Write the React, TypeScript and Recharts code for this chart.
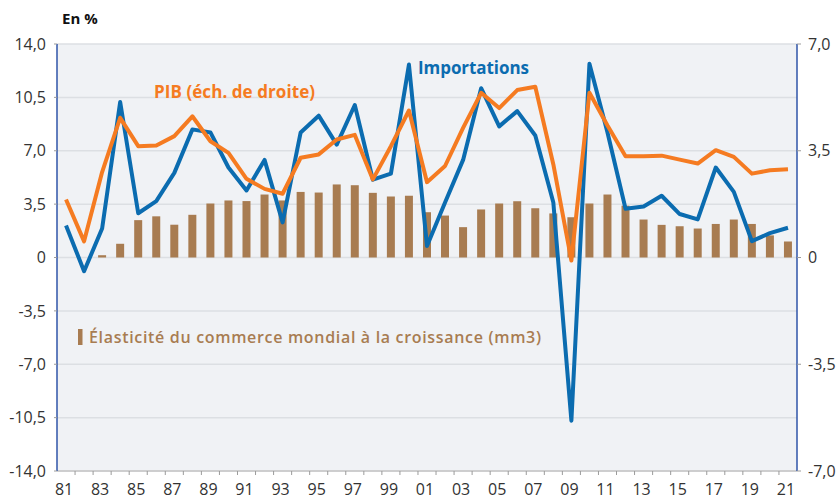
import React from "react";
import {
  ComposedChart,
  Bar,
  Line,
  XAxis,
  YAxis,
  CartesianGrid,
} from "recharts";

const years = [
  "81", "82", "83", "84", "85", "86", "87", "88", "89", "90",
  "91", "92", "93", "94", "95", "96", "97", "98", "99", "00",
  "01", "02", "03", "04", "05", "06", "07", "08", "09", "10",
  "11", "12", "13", "14", "15", "16", "17", "18", "19", "20", "21",
];

// Importations, left scale
const importations = [
  2.1, -0.9, 1.9, 10.2, 2.9, 3.7, 5.55, 8.4, 8.2, 5.9,
  4.4, 6.4, 2.3, 8.2, 9.3, 7.4, 10.0, 5.1, 5.5, 12.65,
  0.75, 3.6, 6.4, 11.1, 8.6, 9.6, 8.0, 3.6, -10.7, 12.7,
  8.2, 3.2, 3.35, 4.05, 2.85, 2.5, 5.9, 4.3, 1.07, 1.6, 1.95,
];

// PIB, right scale
const pib = [
  1.9, 0.53, 2.8, 4.58, 3.65, 3.67, 3.98, 4.63, 3.81, 3.43,
  2.58, 2.25, 2.09, 3.27, 3.38, 3.87, 4.02, 2.56, 3.65, 4.82,
  2.47, 3.0, 4.25, 5.4, 4.9, 5.49, 5.6, 3.05, -0.1, 5.4,
  4.33, 3.32, 3.32, 3.34, 3.21, 3.08, 3.52, 3.3, 2.75, 2.86, 2.89,
];

// Elasticity (mm3), left scale
const elasticite = [
  null, null, 0.15, 0.9, 2.45, 2.7, 2.15, 2.8, 3.54, 3.74,
  3.7, 4.13, 3.74, 4.3, 4.26, 4.79, 4.74, 4.24, 4.0, 4.05,
  2.97, 2.75, 1.99, 3.15, 3.54, 3.69, 3.23, 2.89, 2.64, 3.54,
  4.13, 3.4, 2.49, 2.14, 2.05, 1.9, 2.2, 2.49, 2.2, 1.45, 1.05,
];

const leftTicks = [-14, -10.5, -7, -3.5, 0, 3.5, 7, 10.5, 14];
const rightTicks = [-7, -3.5, 0, 3.5, 7];

const data = years.map((year, i) => ({
  year,
  importations: importations[i],
  pib: pib[i],
  elasticite: elasticite[i],
}));

const BLUE = "#0b6cb0";
const ORANGE = "#f57b21";
const BROWN = "#a87c51";
const AXIS_BLUE = "#2f54a8";
const FONT = "'Open Sans', sans-serif";
const BAND = (797 - 57) / years.length;

const fmt = (v: number) => (v === 0 ? "0" : v.toFixed(1).replace(".", ","));

const XTick = (props: any) => {
  const { x, y, payload, index } = props;
  return (
    <g>
      {index < years.length - 1 && (
        <line x1={x + BAND / 2} x2={x + BAND / 2} y1={y} y2={y + 4} stroke="#9b9b9b" strokeWidth={1} />
      )}
      {index % 2 === 0 && (
        <text x={x - 2} y={y + 24} textAnchor="middle" fontSize={16} fontFamily={FONT} fill="#333">
          {payload.value}
        </text>
      )}
    </g>
  );
};

export default function App() {
  return (
    <div style={{ position: "absolute", left: 0, top: 0, width: 839, height: 499, background: "#fff" }}>
      <ComposedChart
        width={839}
        height={499}
        data={data}
        margin={{ top: 44, right: 0, bottom: 0, left: 0 }}
        barCategoryGap={0}
      >
        <CartesianGrid vertical={false} stroke="#dcdfe3" strokeWidth={1.5} fill="#f0f2f5" />
        <XAxis
          dataKey="year"
          height={28}
          interval={0}
          tickSize={0}
          tickMargin={0}
          tickLine={false}
          axisLine={{ stroke: "#c6c6c6", strokeWidth: 1.5 }}
          tick={<XTick />}
        />
        <YAxis
          domain={[-14, 14]}
          ticks={leftTicks}
          width={57}
          tickFormatter={fmt}
          tickSize={3}
          tickMargin={8}
          tickLine={{ stroke: "#9b9b9b" }}
          axisLine={{ stroke: AXIS_BLUE, strokeWidth: 1.5 }}
          tick={{ fill: "#333", fontSize: 16, fontFamily: FONT }}
          interval={0}
        />
        <YAxis
          yAxisId="right"
          orientation="right"
          domain={[-7, 7]}
          ticks={rightTicks}
          width={42}
          tickFormatter={fmt}
          tickSize={4}
          tickMargin={7}
          tickLine={{ stroke: "#9b9b9b" }}
          axisLine={{ stroke: AXIS_BLUE, strokeWidth: 1.5 }}
          tick={{ fill: "#333", fontSize: 16, fontFamily: FONT }}
          interval={0}
        />
        <Bar dataKey="elasticite" fill={BROWN} barSize={8} isAnimationActive={false} />
        <Line
          dataKey="importations"
          type="linear"
          stroke={BLUE}
          strokeWidth={4}
          strokeLinejoin="round"
          dot={false}
          activeDot={false}
          isAnimationActive={false}
        />
        <Line
          dataKey="pib"
          yAxisId="right"
          type="linear"
          stroke={ORANGE}
          strokeWidth={4}
          strokeLinejoin="round"
          dot={false}
          activeDot={false}
          isAnimationActive={false}
        />
      </ComposedChart>
      <svg
        width={839}
        height={499}
        style={{ position: "absolute", left: 0, top: 0, pointerEvents: "none" }}
        fontFamily={FONT}
      >
        <text x={62} y={24} fontSize={15} fontWeight={700} fill="#111">En %</text>
        <text x={418} y={74} fontSize={17} fontWeight={700} fill={BLUE} textLength={111}>
          Importations
        </text>
        <text x={154} y={98} fontSize={17} fontWeight={700} fill={ORANGE} textLength={161}>
          PIB (éch. de droite)
        </text>
        <rect x={78} y={329} width={4.5} height={16} fill={BROWN} />
        <text x={89} y={343} fontSize={16} fontWeight={600} fill={BROWN} textLength={452}>
          Élasticité du commerce mondial à la croissance (mm3)
        </text>
      </svg>
    </div>
  );
}
